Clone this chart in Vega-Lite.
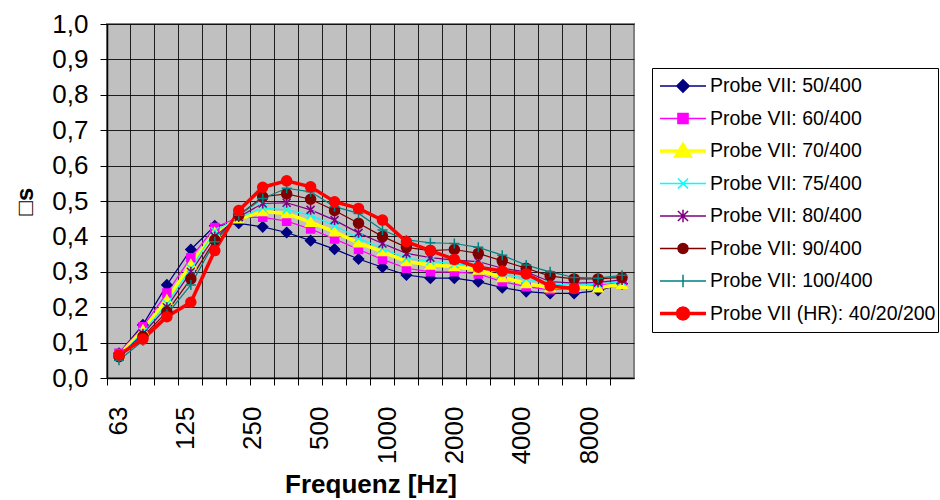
{
"$schema": "https://vega.github.io/schema/vega-lite/v6.json",
"width": 527, "height": 354,
"autosize": {"type": "none"},
"padding": {"left": 107, "top": 24, "right": 306, "bottom": 122},
"background": "white",
"config": {
  "font": "Liberation Sans",
  "view": {"fill": "#C0C0C0", "stroke": "#808080", "strokeWidth": 2},
  "axis": {"labelFont": "Liberation Sans", "labelFontSize": 26, "labelColor": "#000", "titleFont": "Liberation Sans", "titleFontSize": 26, "titleFontWeight": "bold", "titleColor": "#000", "domainColor": "#000", "tickColor": "#000", "gridColor": "#000", "gridWidth": 1, "gridOpacity": 0.85, "tickSize": 7, "domainWidth": 1.5, "tickWidth": 1},
  "legend": {"strokeColor": "#000", "fillColor": "#fff", "padding": 2, "labelFont": "Liberation Sans", "labelFontSize": 19.5, "labelColor": "#000", "labelLimit": 400, "symbolSize": 2116, "symbolOffset": 4, "labelOffset": 2, "clipHeight": 32, "rowPadding": 0.5}
},
"data": {"values": [
{"s":"Probe VII: 50/400","f":"63","v":0.07},{"s":"Probe VII: 50/400","f":"80","v":0.15},{"s":"Probe VII: 50/400","f":"100","v":0.263},{"s":"Probe VII: 50/400","f":"125","v":0.363},{"s":"Probe VII: 50/400","f":"160","v":0.43},{"s":"Probe VII: 50/400","f":"200","v":0.437},{"s":"Probe VII: 50/400","f":"250","v":0.427},{"s":"Probe VII: 50/400","f":"315","v":0.411},{"s":"Probe VII: 50/400","f":"400","v":0.388},{"s":"Probe VII: 50/400","f":"500","v":0.364},{"s":"Probe VII: 50/400","f":"630","v":0.336},{"s":"Probe VII: 50/400","f":"800","v":0.313},{"s":"Probe VII: 50/400","f":"1000","v":0.291},{"s":"Probe VII: 50/400","f":"1250","v":0.282},{"s":"Probe VII: 50/400","f":"1600","v":0.282},{"s":"Probe VII: 50/400","f":"2000","v":0.272},{"s":"Probe VII: 50/400","f":"2500","v":0.255},{"s":"Probe VII: 50/400","f":"3150","v":0.244},{"s":"Probe VII: 50/400","f":"4000","v":0.239},{"s":"Probe VII: 50/400","f":"5000","v":0.239},{"s":"Probe VII: 50/400","f":"6300","v":0.247},{"s":"Probe VII: 50/400","f":"8000","v":0.266},
{"s":"Probe VII: 60/400","f":"63","v":0.07},{"s":"Probe VII: 60/400","f":"80","v":0.145},{"s":"Probe VII: 60/400","f":"100","v":0.24},{"s":"Probe VII: 60/400","f":"125","v":0.34},{"s":"Probe VII: 60/400","f":"160","v":0.425},{"s":"Probe VII: 60/400","f":"200","v":0.454},{"s":"Probe VII: 60/400","f":"250","v":0.454},{"s":"Probe VII: 60/400","f":"315","v":0.443},{"s":"Probe VII: 60/400","f":"400","v":0.421},{"s":"Probe VII: 60/400","f":"500","v":0.393},{"s":"Probe VII: 60/400","f":"630","v":0.363},{"s":"Probe VII: 60/400","f":"800","v":0.335},{"s":"Probe VII: 60/400","f":"1000","v":0.31},{"s":"Probe VII: 60/400","f":"1250","v":0.30},{"s":"Probe VII: 60/400","f":"1600","v":0.30},{"s":"Probe VII: 60/400","f":"2000","v":0.294},{"s":"Probe VII: 60/400","f":"2500","v":0.272},{"s":"Probe VII: 60/400","f":"3150","v":0.258},{"s":"Probe VII: 60/400","f":"4000","v":0.249},{"s":"Probe VII: 60/400","f":"5000","v":0.253},{"s":"Probe VII: 60/400","f":"6300","v":0.263},{"s":"Probe VII: 60/400","f":"8000","v":0.27},
{"s":"Probe VII: 70/400","f":"63","v":0.065},{"s":"Probe VII: 70/400","f":"80","v":0.135},{"s":"Probe VII: 70/400","f":"100","v":0.22},{"s":"Probe VII: 70/400","f":"125","v":0.32},{"s":"Probe VII: 70/400","f":"160","v":0.41},{"s":"Probe VII: 70/400","f":"200","v":0.45},{"s":"Probe VII: 70/400","f":"250","v":0.47},{"s":"Probe VII: 70/400","f":"315","v":0.465},{"s":"Probe VII: 70/400","f":"400","v":0.44},{"s":"Probe VII: 70/400","f":"500","v":0.413},{"s":"Probe VII: 70/400","f":"630","v":0.382},{"s":"Probe VII: 70/400","f":"800","v":0.357},{"s":"Probe VII: 70/400","f":"1000","v":0.329},{"s":"Probe VII: 70/400","f":"1250","v":0.319},{"s":"Probe VII: 70/400","f":"1600","v":0.315},{"s":"Probe VII: 70/400","f":"2000","v":0.305},{"s":"Probe VII: 70/400","f":"2500","v":0.284},{"s":"Probe VII: 70/400","f":"3150","v":0.267},{"s":"Probe VII: 70/400","f":"4000","v":0.255},{"s":"Probe VII: 70/400","f":"5000","v":0.258},{"s":"Probe VII: 70/400","f":"6300","v":0.255},{"s":"Probe VII: 70/400","f":"8000","v":0.265},
{"s":"Probe VII: 75/400","f":"63","v":0.06},{"s":"Probe VII: 75/400","f":"80","v":0.13},{"s":"Probe VII: 75/400","f":"100","v":0.21},{"s":"Probe VII: 75/400","f":"125","v":0.31},{"s":"Probe VII: 75/400","f":"160","v":0.415},{"s":"Probe VII: 75/400","f":"200","v":0.452},{"s":"Probe VII: 75/400","f":"250","v":0.48},{"s":"Probe VII: 75/400","f":"315","v":0.475},{"s":"Probe VII: 75/400","f":"400","v":0.46},{"s":"Probe VII: 75/400","f":"500","v":0.43},{"s":"Probe VII: 75/400","f":"630","v":0.395},{"s":"Probe VII: 75/400","f":"800","v":0.366},{"s":"Probe VII: 75/400","f":"1000","v":0.338},{"s":"Probe VII: 75/400","f":"1250","v":0.33},{"s":"Probe VII: 75/400","f":"1600","v":0.322},{"s":"Probe VII: 75/400","f":"2000","v":0.318},{"s":"Probe VII: 75/400","f":"2500","v":0.295},{"s":"Probe VII: 75/400","f":"3150","v":0.28},{"s":"Probe VII: 75/400","f":"4000","v":0.265},{"s":"Probe VII: 75/400","f":"5000","v":0.262},{"s":"Probe VII: 75/400","f":"6300","v":0.265},{"s":"Probe VII: 75/400","f":"8000","v":0.272},
{"s":"Probe VII: 80/400","f":"63","v":0.06},{"s":"Probe VII: 80/400","f":"80","v":0.125},{"s":"Probe VII: 80/400","f":"100","v":0.2},{"s":"Probe VII: 80/400","f":"125","v":0.3},{"s":"Probe VII: 80/400","f":"160","v":0.4},{"s":"Probe VII: 80/400","f":"200","v":0.455},{"s":"Probe VII: 80/400","f":"250","v":0.493},{"s":"Probe VII: 80/400","f":"315","v":0.495},{"s":"Probe VII: 80/400","f":"400","v":0.475},{"s":"Probe VII: 80/400","f":"500","v":0.446},{"s":"Probe VII: 80/400","f":"630","v":0.41},{"s":"Probe VII: 80/400","f":"800","v":0.38},{"s":"Probe VII: 80/400","f":"1000","v":0.352},{"s":"Probe VII: 80/400","f":"1250","v":0.34},{"s":"Probe VII: 80/400","f":"1600","v":0.333},{"s":"Probe VII: 80/400","f":"2000","v":0.329},{"s":"Probe VII: 80/400","f":"2500","v":0.31},{"s":"Probe VII: 80/400","f":"3150","v":0.3},{"s":"Probe VII: 80/400","f":"4000","v":0.272},{"s":"Probe VII: 80/400","f":"5000","v":0.268},{"s":"Probe VII: 80/400","f":"6300","v":0.27},{"s":"Probe VII: 80/400","f":"8000","v":0.277},
{"s":"Probe VII: 90/400","f":"63","v":0.06},{"s":"Probe VII: 90/400","f":"80","v":0.117},{"s":"Probe VII: 90/400","f":"100","v":0.187},{"s":"Probe VII: 90/400","f":"125","v":0.28},{"s":"Probe VII: 90/400","f":"160","v":0.39},{"s":"Probe VII: 90/400","f":"200","v":0.46},{"s":"Probe VII: 90/400","f":"250","v":0.512},{"s":"Probe VII: 90/400","f":"315","v":0.52},{"s":"Probe VII: 90/400","f":"400","v":0.505},{"s":"Probe VII: 90/400","f":"500","v":0.473},{"s":"Probe VII: 90/400","f":"630","v":0.437},{"s":"Probe VII: 90/400","f":"800","v":0.4},{"s":"Probe VII: 90/400","f":"1000","v":0.369},{"s":"Probe VII: 90/400","f":"1250","v":0.36},{"s":"Probe VII: 90/400","f":"1600","v":0.363},{"s":"Probe VII: 90/400","f":"2000","v":0.352},{"s":"Probe VII: 90/400","f":"2500","v":0.331},{"s":"Probe VII: 90/400","f":"3150","v":0.31},{"s":"Probe VII: 90/400","f":"4000","v":0.288},{"s":"Probe VII: 90/400","f":"5000","v":0.28},{"s":"Probe VII: 90/400","f":"6300","v":0.28},{"s":"Probe VII: 90/400","f":"8000","v":0.284},
{"s":"Probe VII: 100/400","f":"63","v":0.05},{"s":"Probe VII: 100/400","f":"80","v":0.105},{"s":"Probe VII: 100/400","f":"100","v":0.18},{"s":"Probe VII: 100/400","f":"125","v":0.263},{"s":"Probe VII: 100/400","f":"160","v":0.385},{"s":"Probe VII: 100/400","f":"200","v":0.46},{"s":"Probe VII: 100/400","f":"250","v":0.507},{"s":"Probe VII: 100/400","f":"315","v":0.536},{"s":"Probe VII: 100/400","f":"400","v":0.526},{"s":"Probe VII: 100/400","f":"500","v":0.484},{"s":"Probe VII: 100/400","f":"630","v":0.465},{"s":"Probe VII: 100/400","f":"800","v":0.418},{"s":"Probe VII: 100/400","f":"1000","v":0.39},{"s":"Probe VII: 100/400","f":"1250","v":0.382},{"s":"Probe VII: 100/400","f":"1600","v":0.38},{"s":"Probe VII: 100/400","f":"2000","v":0.369},{"s":"Probe VII: 100/400","f":"2500","v":0.347},{"s":"Probe VII: 100/400","f":"3150","v":0.319},{"s":"Probe VII: 100/400","f":"4000","v":0.3},{"s":"Probe VII: 100/400","f":"5000","v":0.284},{"s":"Probe VII: 100/400","f":"6300","v":0.282},{"s":"Probe VII: 100/400","f":"8000","v":0.29},
{"s":"Probe VII (HR): 40/20/200","f":"63","v":0.065},{"s":"Probe VII (HR): 40/20/200","f":"80","v":0.11},{"s":"Probe VII (HR): 40/20/200","f":"100","v":0.173},{"s":"Probe VII (HR): 40/20/200","f":"125","v":0.214},{"s":"Probe VII (HR): 40/20/200","f":"160","v":0.36},{"s":"Probe VII (HR): 40/20/200","f":"200","v":0.473},{"s":"Probe VII (HR): 40/20/200","f":"250","v":0.539},{"s":"Probe VII (HR): 40/20/200","f":"315","v":0.557},{"s":"Probe VII (HR): 40/20/200","f":"400","v":0.54},{"s":"Probe VII (HR): 40/20/200","f":"500","v":0.498},{"s":"Probe VII (HR): 40/20/200","f":"630","v":0.479},{"s":"Probe VII (HR): 40/20/200","f":"800","v":0.446},{"s":"Probe VII (HR): 40/20/200","f":"1000","v":0.385},{"s":"Probe VII (HR): 40/20/200","f":"1250","v":0.36},{"s":"Probe VII (HR): 40/20/200","f":"1600","v":0.335},{"s":"Probe VII (HR): 40/20/200","f":"2000","v":0.313},{"s":"Probe VII (HR): 40/20/200","f":"2500","v":0.302},{"s":"Probe VII (HR): 40/20/200","f":"3150","v":0.294},{"s":"Probe VII (HR): 40/20/200","f":"4000","v":0.26},{"s":"Probe VII (HR): 40/20/200","f":"5000","v":0.253}
]},
"encoding": {
  "y": {"field": "v", "type": "quantitative", "scale": {"domain": [0, 1], "nice": false},
        "axis": {"title": "□s", "values": [0,0.1,0.2,0.3,0.4,0.5,0.6,0.7,0.8,0.9,1], "labelExpr": "replace(format(datum.value, '.1f'), '.', ',')", "labelPadding": 12, "titleFontSize": 24, "titlePadding": 14, "grid": true}}
},
"layer": [
  {
   "encoding": {
     "x": {"field": "f", "type": "ordinal", "sort": ["63","80","100","125","160","200","250","315","400","500","630","800","1000","1250","1600","2000","2500","3150","4000","5000","6300","8000"],
           "scale": {"type": "band", "paddingInner": 0, "paddingOuter": 0},
           "axis": {"orient": "bottom", "title": null, "labels": false, "bandPosition": 0, "grid": true, "ticks": true, "domain": true}}
   },
   "layer": [
    {"mark": {"type": "line"},
     "encoding": {
       "color": {"field": "s", "type": "nominal", "legend": null,
         "scale": {"domain": ["Probe VII: 50/400","Probe VII: 60/400","Probe VII: 70/400","Probe VII: 75/400","Probe VII: 80/400","Probe VII: 90/400","Probe VII: 100/400","Probe VII (HR): 40/20/200"],
                   "range": ["#000080","#FF00FF","#FFFF00","#00FFFF","#800080","#800000","#008080","#FF0000"]}},
       "strokeWidth": {"field": "s", "type": "ordinal", "legend": null,
         "scale": {"type": "ordinal", "domain": ["Probe VII: 50/400","Probe VII: 60/400","Probe VII: 70/400","Probe VII: 75/400","Probe VII: 80/400","Probe VII: 90/400","Probe VII: 100/400","Probe VII (HR): 40/20/200"],
                   "range": [1.2,1.2,3.5,1.2,1.2,1.2,1.2,3.5]}}
     }},
    {"mark": {"type": "point", "size": 100, "strokeWidth": 1.5, "opacity": 1},
     "encoding": {
       "color": {"field": "s", "type": "nominal", "legend": null},
       "fill": {"field": "s", "type": "nominal", "legend": null,
         "scale": {"domain": ["Probe VII: 50/400","Probe VII: 60/400","Probe VII: 70/400","Probe VII: 75/400","Probe VII: 80/400","Probe VII: 90/400","Probe VII: 100/400","Probe VII (HR): 40/20/200"],
                   "range": ["#000080","#FF00FF","#FFFF00","#00FFFF","#800080","#800000","#008080","#FF0000"]}},
       "shape": {"field": "s", "type": "nominal", "legend": null,
         "scale": {"domain": ["Probe VII: 50/400","Probe VII: 60/400","Probe VII: 70/400","Probe VII: 75/400","Probe VII: 80/400","Probe VII: 90/400","Probe VII: 100/400","Probe VII (HR): 40/20/200"],
                   "range": ["M-1,0L0,-1L1,0L0,1Z","M-0.8,-0.8L0.8,-0.8L0.8,0.8L-0.8,0.8Z","M0,-1L1,0.8L-1,0.8Z","M-0.8,-0.8L0.8,0.8M-0.8,0.8L0.8,-0.8","M-0.8,-0.8L0.8,0.8M-0.8,0.8L0.8,-0.8M0,-1L0,1","circle","M-1,0L1,0M0,-1L0,1","circle"]}}
     }}
   ]
  },
  {
   "transform": [{"filter": "datum.v < 0"}],
   "mark": {"type": "point", "filled": true, "opacity": 1},
   "encoding": {
     "x": {"field": "f", "type": "ordinal",
           "scale": {"type": "point", "domain": ["63","125","250","500","1000","2000","4000","8000"], "padding": 0.4153, "align": 0.1968},
           "axis": {"orient": "bottom", "title": "Frequenz [Hz]", "ticks": false, "domain": false, "grid": false, "labelAngle": -90, "labelAlign": "right", "labelBaseline": "middle", "labelPadding": 28, "labelOverlap": false, "titlePadding": 8}},
     "shape": {"field": "s", "type": "nominal",
       "scale": {"domain": ["Probe VII: 50/400","Probe VII: 60/400","Probe VII: 70/400","Probe VII: 75/400","Probe VII: 80/400","Probe VII: 90/400","Probe VII: 100/400","Probe VII (HR): 40/20/200"],
                 "range": ["M-1,0L1,0M-0.27,0L0,-0.27L0.27,0L0,0.27Z","M-1,0L1,0M-0.22,-0.22L0.22,-0.22L0.22,0.22L-0.22,0.22Z","M-1,0L1,0M0,-0.27L0.3,0.22L-0.3,0.22Z","M-1,0L1,0M-0.22,-0.22L0.22,0.22M-0.22,0.22L0.22,-0.22","M-1,0L1,0M-0.22,-0.22L0.22,0.22M-0.22,0.22L0.22,-0.22M0,-0.27L0,0.27","M-1,0L1,0M0.22,0L0.19,0.11L0.11,0.19L0,0.22L-0.11,0.19L-0.19,0.11L-0.22,0L-0.19,-0.11L-0.11,-0.19L0,-0.22L0.11,-0.19L0.19,-0.11Z","M-1,0L1,0M0,-0.27L0,0.27","M-1,0L1,0M0.24,0L0.208,0.12L0.12,0.208L0,0.24L-0.12,0.208L-0.208,0.12L-0.24,0L-0.208,-0.12L-0.12,-0.208L0,-0.24L0.12,-0.208L0.208,-0.12Z"]},
       "legend": {"title": null, "orient": "none", "legendX": 545, "legendY": 44}},
     "fill": {"field": "s", "type": "nominal",
       "scale": {"domain": ["Probe VII: 50/400","Probe VII: 60/400","Probe VII: 70/400","Probe VII: 75/400","Probe VII: 80/400","Probe VII: 90/400","Probe VII: 100/400","Probe VII (HR): 40/20/200"],
                 "range": ["#000080","#FF00FF","#FFFF00","#00FFFF","#800080","#800000","#008080","#FF0000"]},
       "legend": {"title": null, "orient": "none", "legendX": 545, "legendY": 44}},
     "stroke": {"field": "s", "type": "nominal",
       "scale": {"domain": ["Probe VII: 50/400","Probe VII: 60/400","Probe VII: 70/400","Probe VII: 75/400","Probe VII: 80/400","Probe VII: 90/400","Probe VII: 100/400","Probe VII (HR): 40/20/200"],
                 "range": ["#000080","#FF00FF","#FFFF00","#00FFFF","#800080","#800000","#008080","#FF0000"]},
       "legend": {"title": null, "orient": "none", "legendX": 545, "legendY": 44}},
     "strokeWidth": {"field": "s", "type": "ordinal",
       "scale": {"type": "ordinal", "domain": ["Probe VII: 50/400","Probe VII: 60/400","Probe VII: 70/400","Probe VII: 75/400","Probe VII: 80/400","Probe VII: 90/400","Probe VII: 100/400","Probe VII (HR): 40/20/200"],
                 "range": [1.5,1.5,3.5,1.5,1.5,1.5,1.5,3.5]},
       "legend": {"title": null, "orient": "none", "legendX": 545, "legendY": 44}}
   }
  }
],
"resolve": {"scale": {"x": "independent", "shape": "independent", "fill": "independent", "stroke": "independent", "strokeWidth": "independent"}}
}
